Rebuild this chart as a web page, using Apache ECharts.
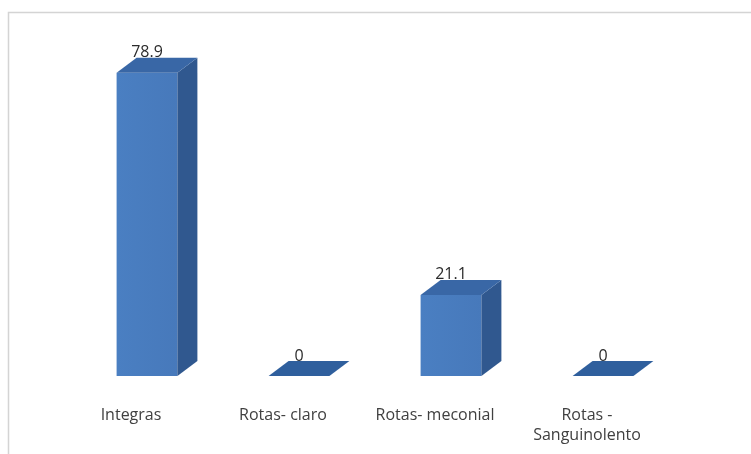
<!DOCTYPE html>
<html>
<head>
<meta charset="utf-8">
<script src="https://cdn.jsdelivr.net/npm/echarts@6/dist/echarts.min.js"></script>
<style>
  html, body { margin: 0; padding: 0; background: #ffffff; }
  #chart { width: 751px; height: 454px; }
</style>
</head>
<body>
<div id="chart"></div>
<script>
// Membranas: distribuição percentual
const categories = ['Integras', 'Rotas- claro', 'Rotas- meconial', 'Rotas -\nSanguinolento'];
const values = [78.9, 0, 21.1, 0];

// depth of the extruded box (pixels to the right and upward)
const DEPTH_X = 20;
const DEPTH_Y = 15;

const chart = echarts.init(document.getElementById('chart'), null, { renderer: 'canvas' });

function renderBox(params, api) {
  const idx = api.value(0);
  const val = api.value(1);
  const top = api.coord([idx, val]);
  const base = api.coord([idx, 0]);
  const band = api.size([1, 0])[0];
  const w = band * 0.40;
  const x0 = top[0] - w / 2;
  const x1 = top[0] + w / 2;
  const yTop = top[1];
  const yBase = base[1];

  const children = [];
  if (yBase - yTop > 0.5) {
    // front face
    children.push({
      type: 'rect',
      shape: { x: x0, y: yTop, width: w, height: yBase - yTop },
      style: {
        fill: new echarts.graphic.LinearGradient(0, 0, 1, 0, [
          { offset: 0, color: '#4a7fc2' },
          { offset: 1, color: '#4779bb' }
        ])
      }
    });
    // side face
    children.push({
      type: 'polygon',
      shape: { points: [[x1, yTop], [x1 + DEPTH_X, yTop - DEPTH_Y], [x1 + DEPTH_X, yBase - DEPTH_Y], [x1, yBase]] },
      style: { fill: '#30588f' }
    });
  }
  // top face
  children.push({
    type: 'polygon',
    shape: { points: [[x0, yTop], [x1, yTop], [x1 + DEPTH_X, yTop - DEPTH_Y], [x0 + DEPTH_X, yTop - DEPTH_Y]] },
    style: { fill: yBase - yTop > 0.5 ? '#3967a6' : '#2f5f9d' }
  });
  // value label
  children.push({
    type: 'text',
    style: {
      text: String(val),
      x: top[0],
      y: yTop - DEPTH_Y - 5,
      align: 'center',
      verticalAlign: 'middle',
      fill: '#2b2b2b',
      font: '16px "Open Sans", "Noto Sans", sans-serif'
    }
  });
  return { type: 'group', children: children };
}

chart.setOption({
  backgroundColor: '#ffffff',
  animation: false,
  graphic: [{
    type: 'rect',
    silent: true,
    shape: { x: 8.5, y: 12.5, width: 800, height: 500 },
    style: { fill: 'none', stroke: '#d4d4d4', lineWidth: 1.5 }
  }],
  grid: { left: 71, right: 72, top: 30, bottom: 78 },
  xAxis: {
    type: 'category',
    data: categories,
    axisLine: { show: false },
    axisTick: { show: false },
    axisLabel: {
      interval: 0,
      margin: 29,
      color: '#404040',
      fontSize: 16,
      lineHeight: 20,
      fontFamily: '"Open Sans", "Noto Sans", sans-serif',
      padding: [0, 32, 0, 0]
    }
  },
  yAxis: {
    type: 'value',
    min: 0,
    max: 90,
    show: false,
    splitLine: { show: false }
  },
  series: [{
    type: 'custom',
    renderItem: renderBox,
    encode: { x: 0, y: 1 },
    data: values.map((v, i) => [i, v])
  }]
});
</script>
</body>
</html>
